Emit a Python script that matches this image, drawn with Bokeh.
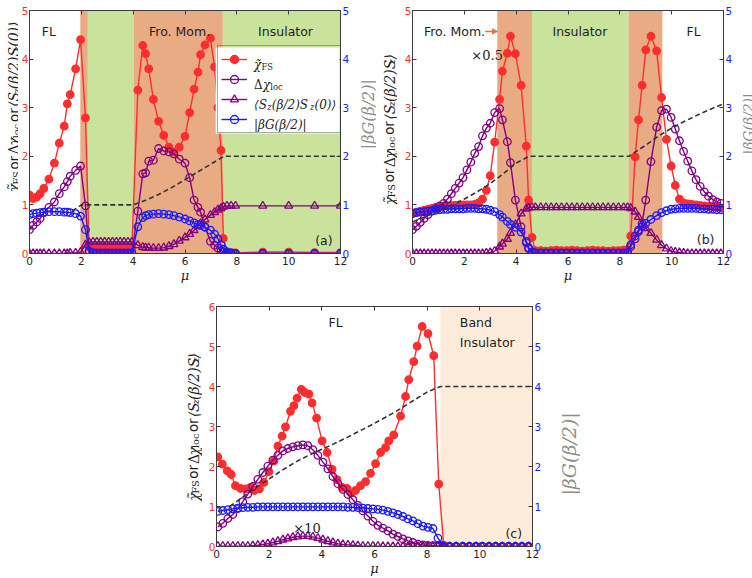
import math

from bokeh.embed import file_html
from bokeh.layouts import column, row
from bokeh.models import (Arrow, BoxAnnotation, FixedTicker, Label, Legend,
                          LegendItem, LinearAxis, NormalHead, Range1d, Spacer)
from bokeh.plotting import figure
from bokeh.resources import INLINE

# ---------------------------------------------------------------- data
# panel (a)
A_MU = [0.00, 0.14, 0.28, 0.41, 0.55, 0.75, 0.96, 1.15, 1.34, 1.46, 1.57, 1.78, 1.97, 2.16,
        2.30, 2.45, 2.60, 2.75, 2.90, 3.05, 3.20, 3.35, 3.50, 3.65, 3.80, 3.95,
        4.18, 4.37, 4.48, 4.60, 4.78, 4.98, 5.18, 5.38, 5.57, 5.78, 6.00, 6.18, 6.35, 6.50,
        6.60, 6.77, 6.98, 7.14, 7.27, 7.39, 7.48, 7.62, 7.78, 7.95,
        9.00, 10.00, 11.00, 12.00]
A_CHI = [1.20, 1.13, 1.16, 1.23, 1.34, 1.53, 1.86, 2.27, 2.62, 3.08, 3.27, 3.80, 4.40, 2.79,
         0.13, 0.11, 0.10, 0.10, 0.10, 0.10, 0.10, 0.10, 0.10, 0.10, 0.10, 0.11,
         3.36, 4.28, 4.11, 3.80, 3.17, 2.72, 2.43, 2.19, 2.09, 2.19, 2.41, 2.90, 3.38, 3.73,
         4.09, 4.29, 4.43, 3.84, 3.00, 2.12, 0.31, 0.04, 0.02, 0.01,
         0.03, 0.03, 0.02, 0.02]
A_DCHI = [0.49, 0.58, 0.65, 0.72, 0.84, 0.95, 1.06, 1.23, 1.37, 1.48, 1.59, 1.71, 1.80, 0.98,
          0.03, 0.01, 0.01, 0.01, 0.01, 0.01, 0.01, 0.01, 0.01, 0.01, 0.01, 0.01,
          0.87, 1.64, 1.66, 1.90, 1.92, 2.16, 2.11, 2.09, 2.05, 1.94, 1.86, 1.56, 1.10, 0.95,
          0.85, 0.55, 0.25, 0.17, 0.11, 0.06, 0.04, 0.01, 0.00, 0.00,
          0.00, 0.00, 0.00, 0.00]
A_SZ = [0.00, 0.00, 0.00, 0.00, 0.00, 0.00, 0.00, 0.00, 0.00, 0.00, 0.01, 0.01, 0.03, 0.18,
        0.23, 0.24, 0.24, 0.24, 0.24, 0.24, 0.24, 0.24, 0.24, 0.24, 0.24, 0.24,
        0.17, 0.13, 0.12, 0.12, 0.11, 0.11, 0.12, 0.15, 0.19, 0.26, 0.33, 0.40, 0.48, 0.56,
        0.62, 0.70, 0.79, 0.85, 0.90, 0.93, 0.96, 0.98, 0.98, 0.98,
        0.98, 0.98, 0.98, 0.98]
A_BG = [0.80, 0.82, 0.83, 0.84, 0.85, 0.86, 0.86, 0.86, 0.85, 0.85, 0.84, 0.82, 0.77, 0.49,
        0.05, 0.01, 0.00, 0.00, 0.00, 0.00, 0.00, 0.00, 0.00, 0.00, 0.00, 0.01,
        0.55, 0.74, 0.78, 0.80, 0.81, 0.82, 0.81, 0.80, 0.78, 0.75, 0.71, 0.67, 0.63, 0.60,
        0.58, 0.54, 0.48, 0.40, 0.30, 0.18, 0.09, 0.03, 0.01, 0.00,
        0.00, 0.00, 0.00, 0.00]
A_N_MU = [1.65, 1.80, 2.00, 4.00, 4.50, 5.00, 5.50, 6.00, 6.50, 7.00, 7.50, 12.00]
A_N = [0.87, 0.93, 1.00, 1.00, 1.10, 1.22, 1.36, 1.52, 1.68, 1.84, 2.00, 2.00]
A_EDGES = [0.00, 1.96, 2.25, 4.03, 7.46, 12.00]
A_PHASES = ["FL", "FM", "INS", "FM", "INS"]

# panel (b)
B_MU = [0.00, 0.15, 0.30, 0.45, 0.60, 0.75, 0.90, 1.05, 1.20, 1.35, 1.50, 1.65, 1.80, 1.95,
        2.10, 2.25, 2.40, 2.55, 2.70, 2.85, 3.00, 3.17,
        3.36, 3.47, 3.66, 3.78, 3.97, 4.19, 4.39, 4.48, 4.61, 4.74,
        4.95, 5.15, 5.35, 5.55, 5.75, 5.95, 6.15, 6.35, 6.55, 6.75, 6.95, 7.15, 7.35, 7.55,
        7.75, 7.95, 8.15, 8.30,
        8.42, 8.59, 8.72, 8.86, 9.00, 9.20, 9.42, 9.61, 9.80, 9.98, 10.14, 10.30, 10.46,
        10.62, 10.78, 10.94, 11.10, 11.26, 11.42, 11.58, 11.74, 11.90]
B_CHI = [0.83, 0.85, 0.87, 0.89, 0.91, 0.93, 0.95, 0.96, 0.97, 0.98, 0.99, 0.99, 1.00, 1.00,
         1.00, 1.00, 1.01, 1.04, 1.12, 1.30, 1.60, 2.29,
         3.17, 3.75, 4.12, 4.47, 4.11, 3.46, 2.21, 1.10, 0.33, 0.06,
         0.06, 0.05, 0.06, 0.07, 0.06, 0.06, 0.07, 0.06, 0.05, 0.06, 0.07, 0.06, 0.06, 0.05,
         0.06, 0.06, 0.07, 0.08,
         0.36, 1.99, 2.75, 3.46, 4.19, 4.47, 4.17, 3.21, 2.35, 1.80, 1.40, 1.12, 1.04,
         1.02, 1.01, 1.00, 0.99, 0.98, 0.97, 0.96, 0.95, 0.94]
B_DCHI = [0.49, 0.56, 0.64, 0.72, 0.80, 0.87, 0.93, 0.98, 1.03, 1.12, 1.23, 1.34, 1.45, 1.56,
          1.72, 1.88, 2.06, 2.20, 2.42, 2.58, 2.68, 2.90,
          2.98, 2.75, 2.30, 1.87, 1.10, 0.55, 0.22, 0.10, 0.03, 0.01,
          0.01, 0.01, 0.01, 0.01, 0.01, 0.01, 0.01, 0.01, 0.01, 0.01, 0.01, 0.01, 0.01, 0.01,
          0.01, 0.01, 0.01, 0.02,
          0.14, 0.30, 0.45, 0.62, 1.10, 1.89, 2.60, 2.94, 2.97, 2.80, 2.56, 2.32, 2.10,
          1.90, 1.70, 1.52, 1.38, 1.27, 1.18, 1.11, 1.06, 1.03]
B_SZ = [0.00, 0.00, 0.00, 0.00, 0.00, 0.00, 0.00, 0.00, 0.00, 0.00, 0.00, 0.00, 0.00, 0.00,
        0.00, 0.00, 0.00, 0.00, 0.00, 0.01, 0.02, 0.05,
        0.14, 0.20, 0.30, 0.42, 0.60, 0.82, 0.92, 0.94, 0.95, 0.95,
        0.95, 0.95, 0.95, 0.95, 0.95, 0.95, 0.95, 0.95, 0.95, 0.95, 0.95, 0.95, 0.95, 0.95,
        0.95, 0.95, 0.95, 0.95,
        0.93, 0.86, 0.75, 0.60, 0.52, 0.42, 0.28, 0.17, 0.10, 0.05, 0.03, 0.02, 0.01,
        0.00, 0.00, 0.00, 0.00, 0.00, 0.00, 0.00, 0.00, 0.00]
B_BG = [0.82, 0.84, 0.85, 0.86, 0.87, 0.88, 0.89, 0.90, 0.91, 0.91, 0.92, 0.92, 0.92, 0.92,
        0.93, 0.93, 0.93, 0.92, 0.92, 0.91, 0.89, 0.86,
        0.80, 0.75, 0.66, 0.60, 0.54, 0.44, 0.25, 0.12, 0.03, 0.01,
        0.00, 0.00, 0.00, 0.00, 0.00, 0.00, 0.00, 0.00, 0.00, 0.00, 0.00, 0.00, 0.00, 0.00,
        0.00, 0.00, 0.00, 0.01,
        0.18, 0.36, 0.48, 0.56, 0.62, 0.70, 0.78, 0.84, 0.88, 0.91, 0.92, 0.93, 0.93,
        0.93, 0.93, 0.93, 0.92, 0.92, 0.91, 0.91, 0.90, 0.90]
B_N_MU = [0.0, 0.5, 1.0, 1.5, 2.0, 2.5, 3.0, 3.5, 4.0, 4.5, 8.35, 9.0, 9.5, 10.0, 10.5,
          11.0, 11.5, 12.0]
B_N = [0.65, 0.76, 0.87, 0.98, 1.12, 1.27, 1.44, 1.64, 1.86, 2.00, 2.00, 2.23, 2.42, 2.58,
       2.72, 2.85, 2.97, 3.08]
B_EDGES = [0.00, 3.27, 4.61, 8.34, 9.64, 12.00]
B_PHASES = ["FL", "FM", "INS", "FM", "FL"]

# panel (c)
C_CHI_MU = [0.05, 0.22, 0.41, 0.56, 0.72, 0.91, 1.10, 1.29, 1.44, 1.63,
            1.80, 1.99, 2.18, 2.33, 2.49, 2.62, 2.81, 2.94, 3.06, 3.22,
            3.35, 3.51, 3.63, 3.80, 4.01, 4.20, 4.39, 4.58, 4.77, 4.96,
            5.11, 5.28, 5.47, 5.66, 5.85, 6.04, 6.23, 6.42, 6.54, 6.73,
            6.99, 7.18, 7.30, 7.49, 7.62, 7.81, 8.03, 8.25, 8.44, 8.63]
C_CHI = [2.24, 2.06, 1.89, 1.80, 1.52, 1.45, 1.44, 1.48, 1.40, 1.44,
         1.60, 1.87, 2.14, 2.51, 2.76, 2.99, 3.38, 3.52, 3.71, 3.93,
         3.85, 3.81, 3.59, 3.21, 2.64, 2.35, 1.93, 1.67, 1.48, 1.45,
         1.34, 1.40, 1.52, 1.62, 1.83, 2.07, 2.35, 2.47, 2.64, 2.79,
         3.26, 3.75, 4.17, 4.62, 5.01, 5.50, 5.32, 4.77, 1.56, 0.03]
C_MU = [0.05, 0.24, 0.43, 0.62, 0.81, 1.00, 1.19, 1.38, 1.57, 1.76,
        1.95, 2.14, 2.33, 2.52, 2.71, 2.90, 3.09, 3.28, 3.47, 3.66,
        3.85, 4.04, 4.23, 4.42, 4.61, 4.80, 4.99, 5.18, 5.37, 5.56,
        5.75, 5.94, 6.13, 6.32, 6.51, 6.70, 6.89, 7.08, 7.27, 7.46,
        7.65, 7.84, 8.03, 8.22, 8.41, 8.60, 8.85, 9.10, 9.35, 9.60,
        9.85, 10.10, 10.35, 10.60, 10.85, 11.10, 11.35, 11.60, 11.85]
C_DCHI = [0.49, 0.58, 0.70, 0.80, 0.95, 1.12, 1.31, 1.50, 1.68, 1.85,
          2.01, 2.16, 2.28, 2.39, 2.45, 2.49, 2.52, 2.54, 2.52, 2.42,
          2.28, 2.11, 1.94, 1.75, 1.57, 1.43, 1.30, 1.17, 1.03, 0.89,
          0.76, 0.63, 0.53, 0.46, 0.39, 0.31, 0.25, 0.19, 0.14, 0.10,
          0.06, 0.04, 0.03, 0.02, 0.01, 0.00, 0.00, 0.00, 0.00, 0.00,
          0.00, 0.00, 0.00, 0.00, 0.00, 0.00, 0.00, 0.00, 0.00]
C_SZ = [0.01, 0.01, 0.01, 0.01, 0.01, 0.01, 0.01, 0.02, 0.03, 0.05,
        0.07, 0.10, 0.13, 0.17, 0.20, 0.23, 0.25, 0.26, 0.26, 0.24,
        0.21, 0.17, 0.13, 0.10, 0.07, 0.05, 0.04, 0.03, 0.02, 0.01,
        0.01, 0.01, 0.01, 0.00, 0.00, 0.00, 0.00, 0.00, 0.00, 0.00,
        0.00, 0.00, 0.00, 0.00, 0.00, 0.00, 0.00, 0.00, 0.00, 0.00,
        0.00, 0.00, 0.00, 0.00, 0.00, 0.00, 0.00, 0.00, 0.00]
C_BG = [0.88, 0.90, 0.92, 0.94, 0.96, 0.97, 0.98, 0.98, 0.99, 0.99,
        0.99, 0.99, 0.99, 0.99, 0.99, 0.99, 0.99, 0.99, 0.99, 0.99,
        0.99, 0.99, 0.99, 0.99, 0.99, 0.99, 0.98, 0.98, 0.97, 0.96,
        0.95, 0.94, 0.93, 0.91, 0.88, 0.84, 0.80, 0.75, 0.69, 0.64,
        0.57, 0.51, 0.48, 0.45, 0.21, 0.02, 0.00, 0.00, 0.00, 0.00,
        0.00, 0.00, 0.00, 0.00, 0.00, 0.00, 0.00, 0.00, 0.00]
C_N_MU = [0.5, 1.0, 1.5, 2.0, 2.5, 3.0, 3.5, 4.0, 4.5, 5.0, 5.5, 6.0, 6.5, 7.0, 7.5, 8.0,
          8.5, 12.0]
C_N = [1.00, 1.24, 1.47, 1.69, 1.91, 2.11, 2.28, 2.43, 2.58, 2.74, 2.91, 3.08, 3.26, 3.45,
       3.66, 3.86, 4.00, 4.00]
C_EDGES = [0.00, 8.50, 12.00]
C_PHASES = ["FL", "BI"]

X_TICKS = [0, 2, 4, 6, 8, 10, 12]

# ---------------------------------------------------------------- styling
RED = "#ff2e2e"
PURPLE = "#800080"
BLUE = "#1a1aff"
DASH = "#333333"
FRAME = "#3c3c3c"
TEXT = "#1e1e1e"
GRAY = "#8c8c8c"
ARROW = "#e07a3a"
PHASE_FILL = {"FL": None, "FM": "#e9ab84", "INS": "#c9e29c", "BI": "#fdecda"}
SERIES = {
    "chi": (RED, "circle", True),
    "dchi": (PURPLE, "circle", False),
    "sz": (PURPLE, "triangle", False),
    "bg": (BLUE, "circle", False),
}

# approximate advance widths (em) used to lay out the mixed math labels
EM_SERIF = {"χ": 0.60, "Δ": 0.72, "S": 0.68, "z": 0.53, "(": 0.39, ")": 0.39, "β": 0.64,
            "/": 0.34, "2": 0.64, "0": 0.64, "⟨": 0.39, "⟩": 0.39, "F": 0.68, "l": 0.32,
            "o": 0.60, "c": 0.56, "|": 0.34, "G": 0.78, " ": 0.32, "\u0303": 0.0}
SERIF_STRETCH = 1.04
EM_SANS = {" ": 0.318, "o": 0.612, "r": 0.411}
STYLE = {  # font, relative size, style, subscript drop (em)
    "m": ("DejaVu Serif", 1.0, "italic", 0.0),
    "u": ("DejaVu Serif", 1.0, "normal", 0.0),
    "s": ("DejaVu Serif", 0.7, "normal", 0.15),
    "si": ("DejaVu Serif", 0.7, "italic", 0.15),
    "t": ("DejaVu Sans", 0.95, "normal", 0.0),
}

Y_LABEL_LONG = [("χ\u0303", "m"), ("FS", "s"), (" ", "t"), ("or", "t"), (" ", "t"),
                ("Δ", "u"), ("χ", "m"), ("loc", "s"), (" ", "t"), ("or", "t"), (" ", "t"),
                ("⟨S", "m"), ("z", "si"), ("(β/2)S", "m"), ("z", "si"), ("(0)⟩", "m")]
Y_LABEL_SHORT = [("χ\u0303", "m"), ("FS", "s"), (" ", "t"), ("or", "t"), (" ", "t"),
                 ("Δ", "u"), ("χ", "m"), ("loc", "s"), (" ", "t"), ("or", "t"), (" ", "t"),
                 ("⟨S", "m"), ("z", "si"), ("(β/2)S", "m"), ("z", "si"), ("⟩", "m")]
G_LABEL = [("|βG(β/2)|", "m")]
LEGEND_TEXT = [
    [("χ\u0303", "m"), ("FS", "s")],
    [("Δ", "u"), ("χ", "m"), ("loc", "s")],
    [("⟨S", "m"), ("z", "si"), ("(β/2)S", "m"), ("z", "si"), ("(0)⟩", "m")],
    G_LABEL,
]


def piece_width(text, kind, size):
    font, scale, _, _ = STYLE[kind]
    if font == "DejaVu Sans":
        em = sum(EM_SANS.get(ch, 0.6) for ch in text)
    else:
        em = SERIF_STRETCH * sum(EM_SERIF.get(ch, 0.6) for ch in text)
    return size * scale * em


def run_length(pieces, size):
    return sum(piece_width(t, k, size) for t, k in pieces)


def draw_run(p, pieces, size, x0, y0, sx, sy, vertical=False, color=TEXT):
    """Lay out a run of text pieces (with subscripts) starting at (x0, y0).

    sx, sy: screen pixels per data unit (rightwards, upwards)."""
    adv = 0.0
    for text, kind in pieces:
        font, scale, style, drop = STYLE[kind]
        if text.strip():
            if vertical:
                dx, dy, ang = drop * size, adv, math.pi / 2
            else:
                dx, dy, ang = adv, -drop * size, 0.0
            p.add_layout(Label(x=x0 + dx / sx, y=y0 + dy / sy, angle=ang, text=text,
                               text_font=font, text_font_size=f"{size * scale:.1f}px",
                               text_font_style=style, text_color=color,
                               text_align="left", text_baseline="alphabetic"))
        adv += piece_width(text, kind, size)


def make_strip(width, height):
    """A bare canvas, in pixel coordinates from the top-left, for rotated axis titles."""
    s = figure(width=width, height=height, x_range=Range1d(0, width),
               y_range=Range1d(height, 0), x_axis_type=None, y_axis_type=None,
               output_backend="svg", toolbar_location=None, min_border=0)
    s.outline_line_color = None
    s.background_fill_color = "white"
    s.border_fill_color = "white"
    return s


def vertical_title(strip, pieces, baseline_x, center_y, size, color=TEXT):
    L = run_length(pieces, size)
    draw_run(strip, pieces, size, baseline_x, center_y + L / 2, 1.0, -1.0,
             vertical=True, color=color)


def make_panel(width, height, left, right, top, bottom, ymax):
    p = figure(width=width, height=height, x_range=Range1d(0, 12), y_range=Range1d(0, ymax),
               output_backend="svg", toolbar_location=None,
               min_border_left=left, min_border_right=right,
               min_border_top=top, min_border_bottom=bottom)
    p.extra_y_ranges = {"g": Range1d(0, ymax)}
    p.add_layout(LinearAxis(y_range_name="g"), "right")
    p.add_layout(LinearAxis(), "above")
    p.xgrid.visible = False
    p.ygrid.visible = False
    p.outline_line_color = FRAME
    p.background_fill_color = "white"
    p.border_fill_color = "white"
    for ax in p.xaxis:
        ax.ticker = FixedTicker(ticks=X_TICKS)
    for ax in p.yaxis:
        ax.ticker = FixedTicker(ticks=list(range(0, ymax + 1)))
    for ax in p.axis:
        ax.major_tick_in = 4
        ax.major_tick_out = 0
        ax.minor_tick_in = 0
        ax.minor_tick_out = 0
        ax.axis_line_color = FRAME
        ax.major_tick_line_color = FRAME
        ax.major_label_text_font = "DejaVu Sans"
        ax.major_label_text_font_size = "10.5px"
        ax.major_label_standoff = 2
    top_ax = p.above[0]          # tick marks only along the top edge
    top_ax.major_label_text_font_size = "0px"
    top_ax.major_label_text_color = None
    top_ax.major_label_standoff = 0
    bottom_ax = p.below[0]
    bottom_ax.major_label_standoff = 3
    bottom_ax.major_label_text_color = TEXT
    bottom_ax.axis_label = "μ"
    bottom_ax.axis_label_text_font = "DejaVu Serif"
    bottom_ax.axis_label_text_font_style = "italic"
    bottom_ax.axis_label_text_font_size = "13px"
    bottom_ax.axis_label_text_color = TEXT
    bottom_ax.axis_label_standoff = 0
    p.left[0].major_label_text_color = RED
    p.left[0].major_label_standoff = 1
    p.right[0].major_label_text_color = BLUE
    return p


def shade(p, edges, phases):
    for lo, hi, ph in zip(edges[:-1], edges[1:], phases):
        if PHASE_FILL[ph]:
            p.add_layout(BoxAnnotation(left=lo, right=hi, fill_color=PHASE_FILL[ph],
                                       fill_alpha=1.0, line_color=None, level="underlay"))


def draw_series(p, mu, vals, kind):
    color, marker, filled = SERIES[kind]
    yr = "g" if kind == "bg" else "default"
    ln = p.line(mu, vals, line_color=color, line_width=1.4, y_range_name=yr)
    sc = p.scatter(mu, vals, marker=marker, size=7.5 if marker == "circle" else 8,
                   line_color=color, line_width=1.3,
                   fill_color=color if filled else None, y_range_name=yr)
    return [ln, sc]


def tag(p, text, x, y, size="12.5px", font="DejaVu Sans", style="normal", align="center"):
    p.add_layout(Label(x=x, y=y, text=text, text_align=align, text_baseline="middle",
                       text_font=font, text_font_size=size, text_font_style=style,
                       text_color=TEXT))


TITLE_SIZE = 14.0

# ---------------------------------------------------------------- panel (a)
TOP_H = 288
sa_l = make_strip(18, TOP_H)
pa = make_panel(334, TOP_H, 8, 12, 10, 35, 5)
sa_r = make_strip(24, TOP_H)
shade(pa, A_EDGES, A_PHASES)
ra = {
    "chi": draw_series(pa, A_MU, A_CHI, "chi"),
    "dchi": draw_series(pa, A_MU, A_DCHI, "dchi"),
    "sz": draw_series(pa, A_MU, A_SZ, "sz"),
    "bg": draw_series(pa, A_MU, A_BG, "bg"),
}
pa.line(A_N_MU, A_N, line_color=DASH, line_width=1.6, line_dash="5 3")
tag(pa, "FL", 0.75, 4.57)
tag(pa, "Fro. Mom.", 5.79, 4.57)
tag(pa, "Insulator", 9.88, 4.57)
tag(pa, "(a)", 11.36, 0.27)
vertical_title(sa_l, Y_LABEL_LONG, 13.5, 116.0, TITLE_SIZE)
vertical_title(sa_r, G_LABEL, 16.0, 127.0, 16.0, color=GRAY)

# legend: white panel underneath, transparent legend box, math text on top
PX_X, PX_Y = 314 / 12, 243 / 5
LEG_X, LEG_Y, LEG_W, LEG_H = 188, 120, 125, 86
pa.add_layout(BoxAnnotation(left=LEG_X / PX_X, right=(LEG_X + LEG_W) / PX_X,
                            bottom=LEG_Y / PX_Y, top=(LEG_Y + LEG_H) / PX_Y,
                            fill_color="white", fill_alpha=1.0, line_color=None))
legend = Legend(items=[LegendItem(label=" ", renderers=ra[k]) for k in ("chi", "dchi", "sz", "bg")],
                location=(LEG_X, LEG_Y), margin=0, padding=3, spacing=0,
                glyph_width=26, glyph_height=20, label_height=20, label_width=88,
                label_standoff=5, border_line_color="#555555", border_line_width=1,
                background_fill_alpha=0.0, label_text_font_size="10px")
pa.add_layout(legend)
for i, pieces in enumerate(LEGEND_TEXT):
    draw_run(pa, pieces, 12.0, 226.7 / PX_X, (188.5 - 20 * i) / PX_Y, PX_X, PX_Y)

# ---------------------------------------------------------------- panel (b)
sb_l = make_strip(21, TOP_H)
pb = make_panel(338, TOP_H, 15, 9, 10, 35, 5)
sb_r = make_strip(17, TOP_H)
shade(pb, B_EDGES, B_PHASES)
for key, vals in (("chi", B_CHI), ("dchi", B_DCHI), ("sz", B_SZ), ("bg", B_BG)):
    draw_series(pb, B_MU, vals, key)
pb.line(B_N_MU, B_N, line_color=DASH, line_width=1.6, line_dash="5 3")
tag(pb, "Fro. Mom.", 1.62, 4.57)
pb.add_layout(Arrow(x_start=2.80, y_start=4.57, x_end=3.28, y_end=4.57,
                    line_color=ARROW, line_width=1.5,
                    end=NormalHead(size=5, fill_color=ARROW, line_color=ARROW)))
tag(pb, "×0.5", 2.88, 4.07, size="13px", font="DejaVu Serif")
tag(pb, "Insulator", 6.46, 4.57)
tag(pb, "FL", 10.85, 4.57)
tag(pb, "(b)", 11.31, 0.29)
vertical_title(sb_l, Y_LABEL_SHORT, 13.0, 141.5, TITLE_SIZE)
vertical_title(sb_r, G_LABEL, 13.3, 138.0, 14.0, color=GRAY)

# ---------------------------------------------------------------- panel (c)
BOT_H = 290
sc_l = make_strip(22, BOT_H)
pc = make_panel(344, BOT_H, 14, 14, 18, 30, 6)
sc_r = make_strip(34, BOT_H)
shade(pc, C_EDGES, C_PHASES)
draw_series(pc, C_CHI_MU, C_CHI, "chi")
for key, vals in (("dchi", C_DCHI), ("sz", C_SZ), ("bg", C_BG)):
    draw_series(pc, C_MU, vals, key)
pc.line(C_N_MU, C_N, line_color=DASH, line_width=1.6, line_dash="5 3")
tag(pc, "FL", 4.52, 5.6)
tag(pc, "Band", 9.24, 5.6, align="left")
tag(pc, "Insulator", 9.24, 5.1, align="left")
tag(pc, "(c)", 11.29, 0.32)
tag(pc, "×10", 3.44, 0.45, size="13px", font="DejaVu Serif")
vertical_title(sc_l, Y_LABEL_SHORT, 13.0, 146.0, TITLE_SIZE)
vertical_title(sc_r, G_LABEL, 22.0, 184.0, 19.0, color=GRAY)

layout = column(
    row(sa_l, pa, sa_r, sb_l, pb, sb_r),
    row(Spacer(width=180, height=BOT_H), sc_l, pc, sc_r),
)

with open("out.html", "w") as f:
    f.write(file_html(layout, INLINE))
